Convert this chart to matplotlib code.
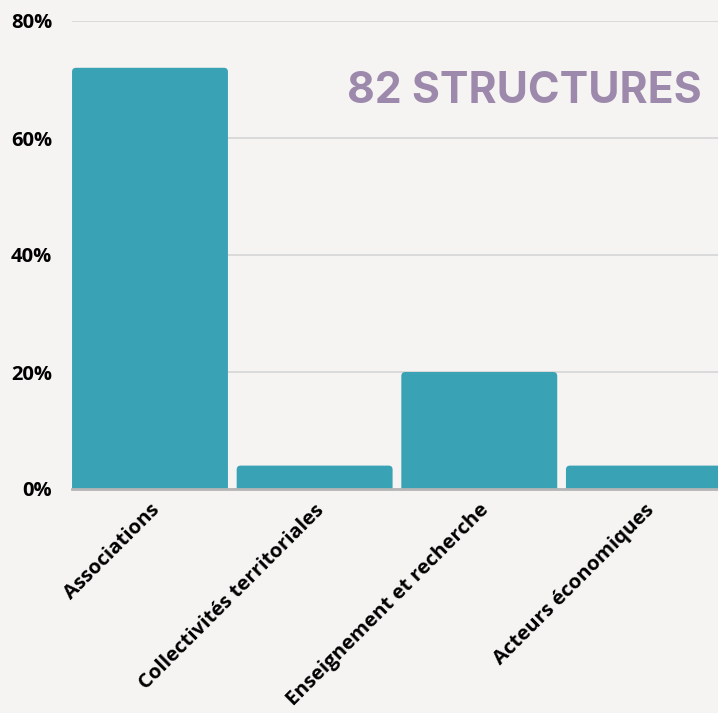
import matplotlib
matplotlib.use('Agg')
import matplotlib.pyplot as plt
from matplotlib.patches import FancyBboxPatch

categories = ["Associations", "Collectivités territoriales",
              "Enseignement et recherche", "Acteurs économiques"]
values = [72, 4, 20, 4]
yticks = [0, 20, 40, 60, 80]
ytick_labels = ["0%", "20%", "40%", "60%", "80%"]
title = "82 STRUCTURES"

BG = '#f5f4f2'
BAR = '#3aa2b5'
W, H = 718, 713

fig = plt.figure(figsize=(W / 100, H / 100), dpi=100, facecolor=BG)
ax = fig.add_axes([72 / W, 1 - 489 / H, 1 - 72 / W, (489 - 21) / H])
ax.set_facecolor(BG)

bars = ax.bar(range(len(categories)), values, width=0.947, color=BAR, zorder=2)
ax.set_xlim(-0.4737, 3.45)
ax.set_ylim(0, 80)

# rounded top corners
p0 = ax.transData.transform((0, 0))
p1 = ax.transData.transform((1, 1))
pxx = p1[0] - p0[0]
pxy = p1[1] - p0[1]
aspect = pxx / pxy
r = 4 / pxx
for b in bars:
    x, y = b.get_x(), b.get_y()
    w, h = b.get_width(), b.get_height()
    b.set_visible(False)
    ext = 2.0
    patch = FancyBboxPatch((x, y - ext), w, h + ext,
                           boxstyle=f"round,pad=0,rounding_size={r}",
                           mutation_aspect=aspect, facecolor=BAR,
                           edgecolor='none', zorder=2, clip_on=True)
    ax.add_patch(patch)

ax.set_yticks(yticks)
ax.set_yticklabels(ytick_labels, fontsize=14.5, fontweight='bold', family='Open Sans')
ax.set_xticks(range(len(categories)))
ax.set_xticklabels(categories, fontsize=14.7, fontweight='bold', family='Open Sans',
                   rotation=45, ha='right', va='top', rotation_mode='anchor')
ax.tick_params(axis='y', length=0, pad=14.4)
ax.tick_params(axis='x', length=0, pad=8)
for lab in ax.get_xticklabels():
    lab.set_color('black')

ax.yaxis.grid(True, color='#d8d8d8', lw=1.3)
ax.set_axisbelow(True)
for s in ['top', 'right', 'left']:
    ax.spines[s].set_visible(False)
ax.spines['bottom'].set_color('#b5b5b5')
ax.spines['bottom'].set_linewidth(2)
ax.spines['bottom'].set_zorder(3)

fig.text(702 / W, 1 - 103 / H, title, ha='right', va='baseline',
         fontsize=30.8, fontweight='bold', family='Inter', color='#9c89ab')

fig.savefig('out.png', dpi=100, facecolor=BG)
